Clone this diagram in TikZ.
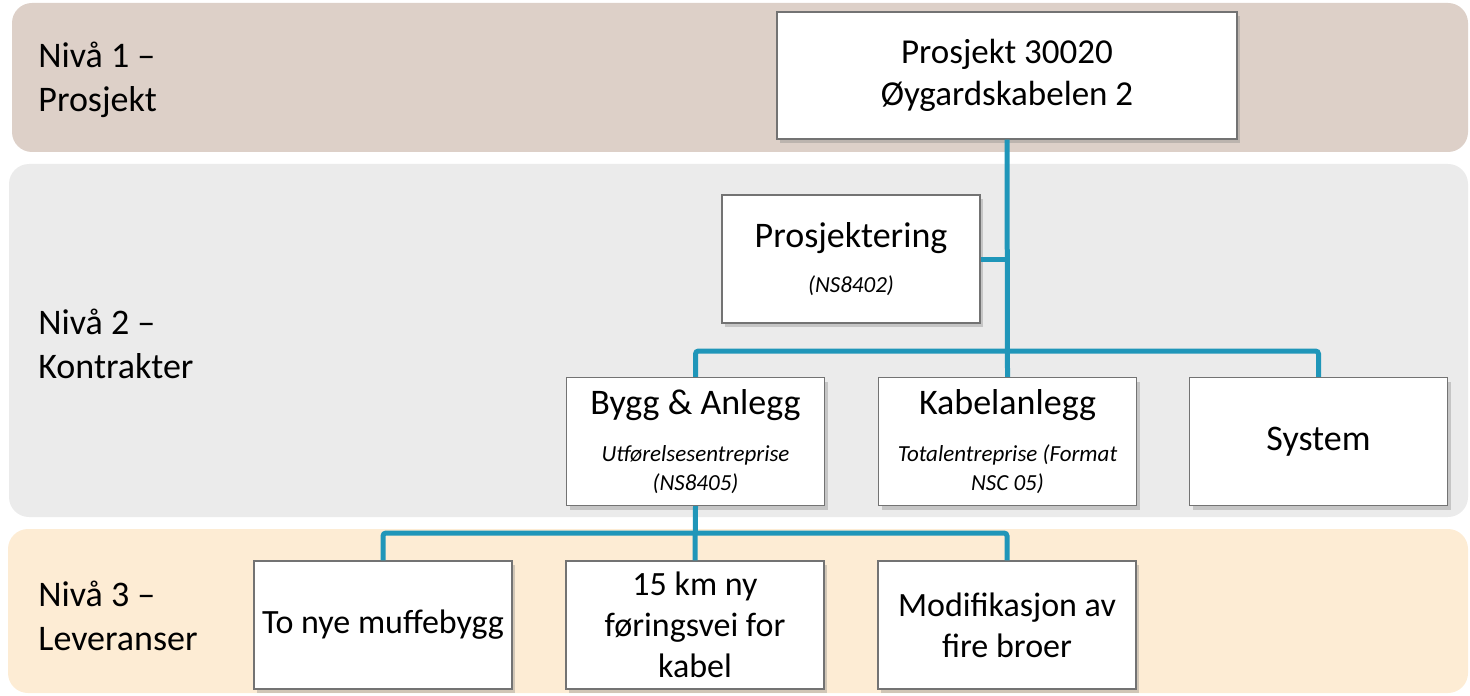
\documentclass[tikz,border=0pt]{standalone}
\usepackage{fontspec}
\setmainfont{Carlito}
\usetikzlibrary{shadows}
\definecolor{bandone}{RGB}{221,208,200}
\definecolor{bandtwo}{RGB}{235,235,235}
\definecolor{bandthree}{RGB}{253,236,212}
\definecolor{linkblue}{RGB}{31,150,185}
\newcommand{\titlefont}{\fontsize{18}{22}\selectfont}
\newcommand{\subfont}{\fontsize{11.5}{14.5}\selectfont\itshape}
\newcommand{\leaffont}{\fontsize{17}{20.5}\selectfont}
\begin{document}
\begin{tikzpicture}[x=0.5pt,y=-0.5pt]
        \tikzstyle{band}=[rounded corners=10pt]
        \tikzstyle{level}=[anchor=west,align=left,inner sep=0pt,font=\titlefont]
        \tikzstyle{box}=[rectangle,draw=black!55,line width=0.6pt,fill=white,
          drop shadow={shadow xshift=1.5pt,shadow yshift=-2pt,opacity=0.35},
          minimum width=129pt,minimum height=64pt,text width=125pt,align=flush center,inner sep=0pt]
        \tikzstyle{edge}=[draw,linkblue,line width=2.5pt,rounded corners=1.5pt]
       \useasboundingbox (0,0) rectangle (1470,695);
       % levels
       \fill[band,bandone] (12,3) rectangle (1468,152);
       \fill[band,bandtwo] (9,164) rectangle (1468,517);
       \fill[band,bandthree] (8,529) rectangle (1468,693);
       \node [level] (niva1) at (38,80) {Nivå 1 –\\Prosjekt};
       \node [level] (niva2) at (38,344) {Nivå 2 –\\Kontrakter};
       \node [level] (niva3) at (38,616) {Nivå 3 –\\Leveranser};
       % boxes
       \node [box,minimum width=230pt,minimum height=63.5pt,text width=220pt,font=\fontsize{17.5}{21}\selectfont] (proj) at (1007,75.5) {Prosjekt 30020\\Øygardskabelen 2\par\vspace{-5pt}};
       \node [box] (prosjektering) at (851,259) {{\titlefont Prosjektering\par}\vspace{8pt}{\subfont (NS8402)\par}\vspace{1pt}};
       \node [box] (bygg) at (695.5,441.5) {{\titlefont Bygg \& Anlegg\par}\vspace{9pt}{\subfont Utførelsesentreprise\\(NS8405)\par}\vspace{0.5pt}};
       \node [box] (kabel) at (1007.5,441.5) {{\titlefont Kabelanlegg\par}\vspace{9pt}{\subfont Totalentreprise (Format\\NSC 05)\par}\vspace{0.5pt}};
       \node [box] (system) at (1318.5,441.5) {{\titlefont System\par}};
       \node [box,font=\leaffont] (tonye) at (383,625) {To nye muffebygg};
       \node [box,font=\leaffont] (km15) at (695,625) {15 km ny\\føringsvei for\\kabel};
       \node [box,font=\leaffont] (modif) at (1007,625) {Modifikasjon av\\fire broer};
       % connectors
       \coordinate (bus2) at (0,351);
       \coordinate (bus3) at (0,533);
       \path[edge] (proj.south) -- (kabel.north);
       \path[edge] (prosjektering.east) -- (prosjektering.east -| proj.south);
       \path[edge] (bygg.north) -- (bygg.north |- bus2) -- (system.north |- bus2) -- (system.north);
       \path[edge] (bygg.south) -- (km15.north);
       \path[edge] (tonye.north) -- (tonye.north |- bus3) -- (modif.north |- bus3) -- (modif.north);
      \end{tikzpicture}
\end{document}
